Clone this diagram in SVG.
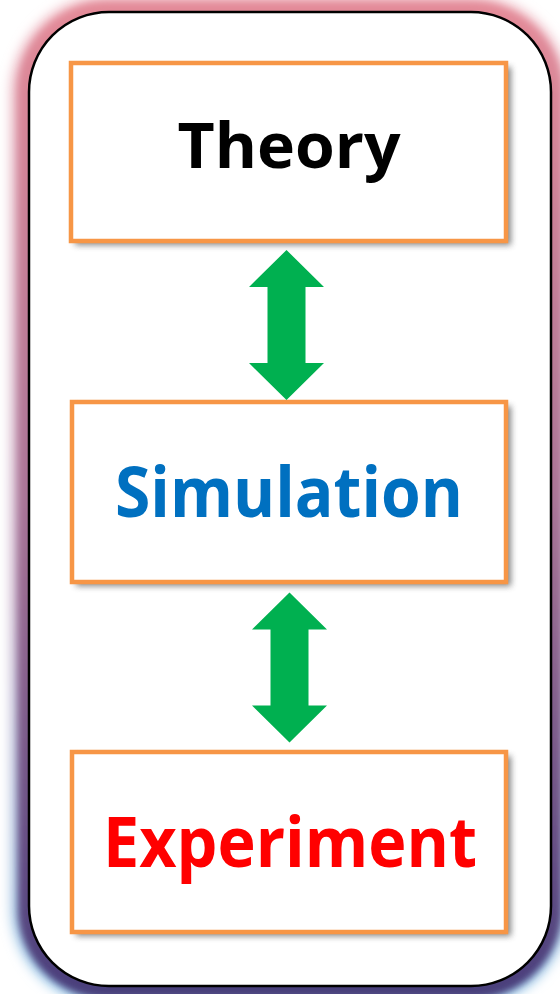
<svg xmlns="http://www.w3.org/2000/svg" width="560" height="994" viewBox="0 0 560 994">
  <defs>
    <linearGradient id="glowInner" x1="0" y1="0" x2="0" y2="1">
      <stop offset="0" stop-color="#e38a98"/>
      <stop offset="0.5" stop-color="#a97496"/>
      <stop offset="1" stop-color="#4a3f7c"/>
    </linearGradient>
    <linearGradient id="glowOuter" x1="0" y1="0" x2="0" y2="1">
      <stop offset="0" stop-color="#eeb2bc"/>
      <stop offset="0.6" stop-color="#c6aec8"/>
      <stop offset="1" stop-color="#9bcbeb"/>
    </linearGradient>
    <filter id="soft" x="-20%" y="-20%" width="140%" height="140%">
      <feGaussianBlur stdDeviation="3.5"/>
    </filter>
    <filter id="softer" x="-20%" y="-20%" width="140%" height="140%">
      <feGaussianBlur stdDeviation="6"/>
    </filter>
    <filter id="boxShadow" x="-10%" y="-10%" width="125%" height="130%">
      <feGaussianBlur stdDeviation="3"/>
    </filter>
    <path id="dblArrow" d="M0,0 L37.5,37 L19,37 L19,113 L37.5,113 L0,150 L-37.5,113 L-19,113 L-19,37 L-37.5,37 Z"/>
  </defs>
  <style>
    .frame { fill: #ffffff; stroke: #000000; stroke-width: 2.5; }
    .box { fill: #ffffff; stroke: #f79646; stroke-width: 4.5; }
    .shadow { fill: #707070; opacity: 0.85; }
    .arrow { fill: #00b050; }
    .label { font-family: "Open Sans", "Noto Sans", "Liberation Sans", sans-serif; font-weight: bold; text-anchor: middle; }
  </style>

  <!-- outer frame with soft coloured glow -->
  <g id="frame">
    <rect x="26" y="11" width="527" height="979" rx="82" fill="none" stroke="url(#glowOuter)" stroke-width="30" filter="url(#softer)"/>
    <rect x="28" y="12" width="524" height="977" rx="80" fill="none" stroke="url(#glowInner)" stroke-width="20" filter="url(#soft)"/>
    <rect class="frame" x="29" y="12" width="522" height="974" rx="80"/>
  </g>

  <!-- Theory -->
  <g id="theory">
    <rect class="shadow" x="75" y="67" width="436" height="178" filter="url(#boxShadow)"/>
    <rect class="box" x="71" y="63" width="435" height="178"/>
    <text class="label" x="289" y="168" font-size="62" fill="#000000" textLength="223" lengthAdjust="spacingAndGlyphs">Theory</text>
  </g>

  <!-- Simulation -->
  <g id="simulation">
    <rect class="shadow" x="76" y="406" width="435" height="180" filter="url(#boxShadow)"/>
    <rect class="box" x="72" y="402" width="434" height="180"/>
    <text class="label" x="289" y="517" font-size="70" fill="#0070c0" textLength="348" lengthAdjust="spacingAndGlyphs">Simulation</text>
  </g>

  <!-- Experiment -->
  <g id="experiment">
    <rect class="shadow" x="76" y="756" width="435" height="180" filter="url(#boxShadow)"/>
    <rect class="box" x="72" y="752" width="434" height="180"/>
    <text class="label" x="290" y="867" font-size="70" fill="#ff0000" textLength="374" lengthAdjust="spacingAndGlyphs">Experiment</text>
  </g>

  <!-- connectors -->
  <g id="connectors">
    <use href="#dblArrow" class="arrow" transform="translate(286.5,250)"/>
    <use href="#dblArrow" class="arrow" transform="translate(289.5,592.5)"/>
  </g>
</svg>
